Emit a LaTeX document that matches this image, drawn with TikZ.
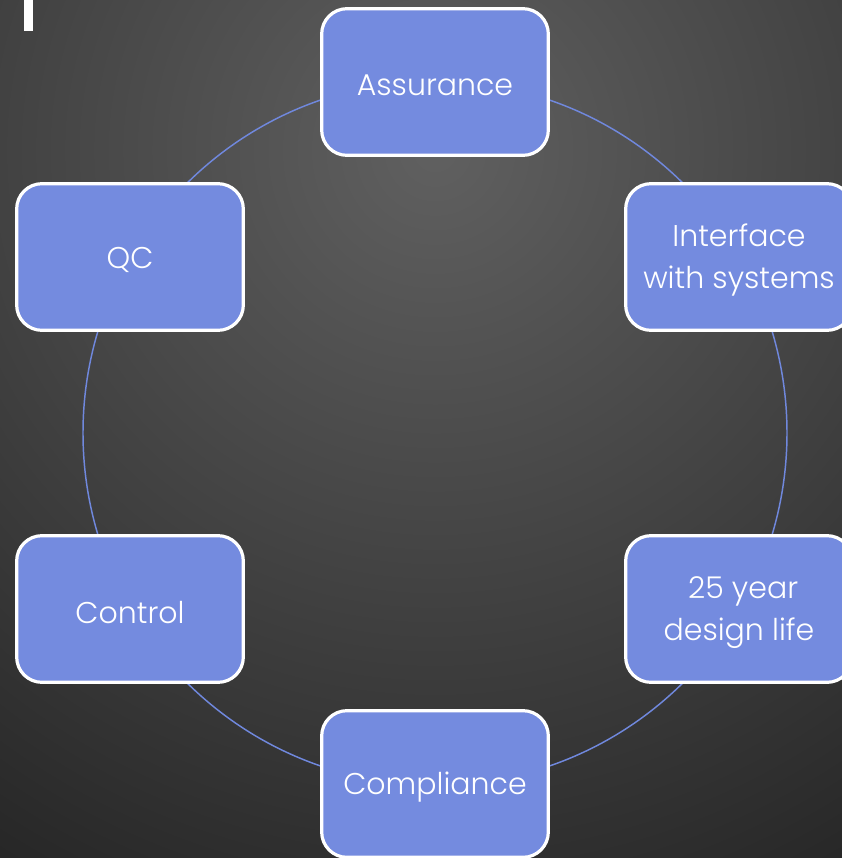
\documentclass[tikz,border=0pt]{standalone}
\usepackage{fontspec}
\setmainfont{Poppins}[UprightFont=* Light]
\begin{document}
\begin{tikzpicture}[x=0.75pt,y=-0.75pt,
  box/.style={draw=white, line width=2.4pt, fill=boxblue, rounded corners=19pt,
    minimum width=170pt, minimum height=110pt, inner sep=0pt},
  boxtext/.style={text=white, align=center, yshift=-2.5pt,
    font=\fontsize{22.5}{31.5}\selectfont, inner sep=0pt},
  ring/.style={draw=ringblue, line width=1.1pt}]
\definecolor{boxblue}{HTML}{748BDF}
\definecolor{ringblue}{HTML}{7088DD}
\useasboundingbox (0,0) rectangle (842,858);
\begin{scope}
\clip (0,0) rectangle (842,858);
\shade[inner color={rgb,255:red,96;green,96;blue,96}, outer color={rgb,255:red,34;green,34;blue,34}]
  (435,150) circle[radius=900];
\fill[white] (24,0) rectangle (33,31);
\coordinate (c) at (435,433);
\draw[ring] (c) circle[radius=352];
\node[box, label={[boxtext]center:Assurance}] (assur) at (435,82) {};
\node[box, label={[boxtext]center:Interface\\with systems}] (iface) at (739,257) {};
\node[box, label={[boxtext]center:\ 25 year\\design life}] (life) at (739,609) {};
\node[box, label={[boxtext]center:Compliance}] (compl) at (435,784) {};
\node[box, label={[boxtext]center:Control}] (ctrl) at (130,609) {};
\node[box, label={[boxtext]center:QC}] (qc) at (130,257) {};
\end{scope}
\end{tikzpicture}
\end{document}
